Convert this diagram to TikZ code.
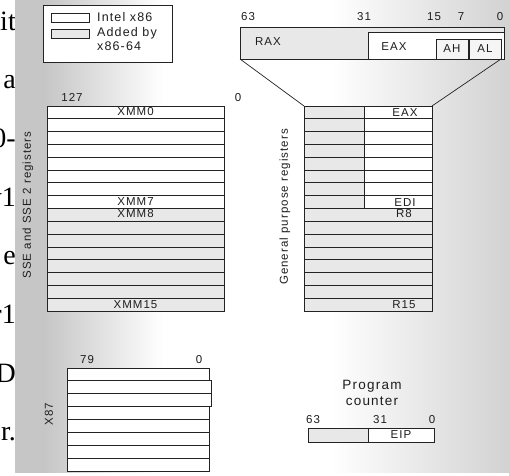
\documentclass[tikz,border=0pt]{standalone}
\usepackage{fontspec}
\setmainfont{Liberation Sans}
\newfontfamily\regfont[LetterSpace=9]{Liberation Sans}
\newfontfamily\bodyserif{Liberation Serif}
\usetikzlibrary{positioning}
\definecolor{linegray}{RGB}{35,35,35}
\definecolor{addgray}{RGB}{232,232,232}
\definecolor{textgray}{RGB}{30,30,30}
\definecolor{bgleft}{RGB}{198,198,198}
\definecolor{bgright}{RGB}{210,210,210}
\pgfdeclarehorizontalshading{bgfade}{100bp}{color(0bp)=(bgleft); color(25bp)=(bgleft); color(28bp)=(bgleft); color(40bp)=(white); color(57bp)=(white); color(75bp)=(bgright); color(100bp)=(bgright)}

\begin{document}
\begin{tikzpicture}[
    x=1pt, y=-1pt,
    reg/.style={draw=linegray, line width=0.8pt, inner sep=0pt, outer sep=0pt, anchor=north west},
    intel/.style={reg, fill=white},
    added/.style={reg, fill=addgray},
    lbl/.style={font=\regfont\fontsize{11.5}{13}\selectfont, text=textgray, inner sep=0pt},
    keytext/.style={lbl, font=\regfont\fontsize{12.5}{14}\selectfont},
    frag/.style={font=\bodyserif\fontsize{28}{30}\selectfont, anchor=base east, inner sep=0pt}
]
\useasboundingbox (0,0) rectangle (509,475);
\fill[white] (0,0) rectangle (509,475);

% Cut-off text of the page
\node[frag] (fragit) at (16,30) {it};
\node[frag] (fraga) at (16,88.6) {a};
\node[frag] (fragzero) at (16,147) {0-};
\node[frag] (fragvone) at (16,206) {v1};
\node[frag] (frage) at (16,264) {e};
\node[frag] (fragrone) at (16,323) {r1};
\node[frag] (fragd) at (16,382) {D};
\node[frag] (fragr) at (16,440) {r.};

% Slide background
\shade[shading=bgfade] (15,0) rectangle (509,472);

% Legend
\node[reg, fill=white, minimum width=129, minimum height=57] (legend) at (43,5) {};
\node[intel, minimum width=38, minimum height=9] (keyintel) at (51,13) {};
\node[added, minimum width=38, minimum height=9] (keyadded) at (51,29) {};
\node[keytext, right=8 of keyintel] (txtintel) {Intel x86};
\node[keytext, right=8 of keyadded] (txtadded) {Added by};
\node[keytext, anchor=west] (txtadded2) at (97,46.5) {x86-64};

% RAX layout
\node[added, minimum width=264, minimum height=32] (rax) at (240,27) {};
\node[intel, minimum width=136, minimum height=27] (eax) at (368,32) {};
\node[reg, fill=gray!8, minimum width=32, minimum height=20] (ah) at (436,39) {};
\node[reg, fill=gray!8, minimum width=32, minimum height=20] (al) at (469,39) {};
\node[lbl] (lrax) at (268,42) {RAX};
\node[lbl] (leax) at (394,47) {EAX};
\node[lbl] (lah) at (ah.center) {AH};
\node[lbl] (lal) at (al.center) {AL};
\node[lbl] (bsixtythree) at (248,17) {63};
\node[lbl] (bthirtyone) at (364,17) {31};
\node[lbl] (bfifteen) at (434,17) {15};
\node[lbl] (bseven) at (461,17) {7};
\node[lbl] (bzero) at (500,17) {0};

% SSE registers
\foreach \i in {0,...,7}
  \node[intel, minimum width=177, minimum height=12.8125] (xmm\i) at (47,106+12.8125*\i) {};
\foreach \i in {8,...,15}
  \node[added, minimum width=177, minimum height=12.8125] (xmm\i) at (47,106+12.8125*\i) {};
\node[lbl] (lxmm0) at ([yshift=1]xmm0.center) {XMM0};
\node[lbl] (lxmm7) at ([yshift=1]xmm7.center) {XMM7};
\node[lbl] (lxmm8) at ([yshift=1]xmm8.center) {XMM8};
\node[lbl] (lxmm15) at (xmm15.center) {XMM15};
\node[lbl] (xmmhigh) at (72,97) {127};
\node[lbl] (xmmlow) at (238,98) {0};
\node[lbl, rotate=90] (sselabel) at (28,205) {SSE and SSE 2 registers};

% General purpose registers
\foreach \i in {0,...,7}{
  \node[added, minimum width=60, minimum height=12.8125] (gprhi\i) at (304,106+12.8125*\i) {};
  \node[intel, minimum width=68, minimum height=12.8125] (gprlo\i) at (gprhi\i.north east) {};
}
\foreach \i in {8,...,15}
  \node[added, minimum width=128, minimum height=12.8125] (gpr\i) at (304,106+12.8125*\i) {};
\node[lbl] (leaxrow) at ([xshift=7]gprlo0.center) {EAX};
\node[lbl] (ledi) at ([xshift=7]gprlo7.center) {EDI};
\node[lbl] (lreight) at ([xshift=36,yshift=1]gpr8.center) {R8};
\node[lbl] (lrfifteen) at ([xshift=36]gpr15.center) {R15};
\node[lbl, rotate=90] (gprlabel) at (285,207) {General purpose registers};

\draw[linegray, line width=0.7pt] (rax.south west) -- (gprhi0.north west);
\draw[linegray, line width=0.7pt] (al.south east) -- (gprlo0.north east);

% x87 registers
\foreach \i/\w in {0/142,1/144,2/144,3/142,4/142,5/142,6/142,7/142}
  \node[intel, minimum width=\w, minimum height=12.875] (fpr\i) at (67,368+12.875*\i) {};
\node[lbl] (fprhigh) at (87,360) {79};
\node[lbl] (fprlow) at (199,360) {0};
\node[lbl, rotate=90] (fprlabel) at (49,414) {X87};

% Program counter
\node[lbl, font=\regfont\fontsize{13.5}{16}\selectfont, align=center] (pclabel) at (372,393) {Program\\counter};
\node[added, minimum width=60, minimum height=14] (riphi) at (308,428) {};
\node[intel, minimum width=66, minimum height=14] (eip) at (riphi.north east) {};
\node[lbl] (leip) at (eip.center) {EIP};
\node[lbl] (pcsixtythree) at (313,420) {63};
\node[lbl] (pcthirtyone) at (380,420) {31};
\node[lbl] (pczero) at (432,420) {0};
\end{tikzpicture}
\end{document}
